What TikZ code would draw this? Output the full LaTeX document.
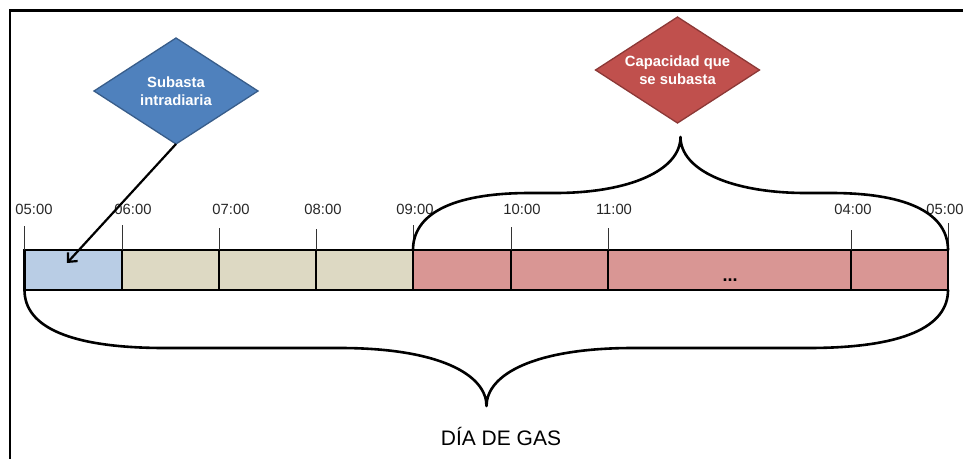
\documentclass[tikz,border=0pt]{standalone}
\usepackage{fontspec}
\setmainfont{Liberation Sans}
\usetikzlibrary{shapes.geometric,arrows.meta}
\definecolor{blueFill}{HTML}{4F81BD}
\definecolor{blueEdge}{HTML}{385D8A}
\definecolor{redFill}{HTML}{C0504D}
\definecolor{redEdge}{HTML}{8C3836}
\definecolor{cellBlue}{HTML}{B9CDE5}
\definecolor{cellBeige}{HTML}{DDD9C3}
\definecolor{cellRed}{HTML}{D99694}
\begin{document}
\begin{tikzpicture}[x=1pt,y=-1pt,
  decision/.style={diamond, aspect=1.55, minimum width=164pt, minimum height=106pt,
    inner sep=0pt, outer sep=0pt, line width=1.3pt, text=white,
    font=\fontsize{14.8}{18}\selectfont\bfseries, align=center},
  cell/.style={draw, line width=2.3pt, minimum height=40pt, inner sep=0pt, outer sep=0pt, anchor=north west},
  tickline/.style={line width=0.9pt, draw=black!80},
  hour/.style={font=\fontsize{14.8}{17}\selectfont, anchor=base, inner sep=0pt, text=black!85},
  brace/.style={line width=2.6pt, line join=round, line cap=round}]
\useasboundingbox (0,0) rectangle (963,458);

% frame
\draw[line width=2.5pt] (10,470) -- (10,10.5) -- (975,10.5);

% diamonds
\node[decision, fill=blueFill, draw=blueEdge] (d1) at (176,91) {Subasta\\intradiaria};
\node[decision, fill=redFill, draw=redEdge] (d2) at (677.5,70) {Capacidad que\\se subasta};

% cells
\node[cell, fill=cellBlue, minimum width=97.5pt] (c1) at (24.5,250) {};
\node[cell, fill=cellBeige, minimum width=97pt] (c2) at (c1.north east) {};
\node[cell, fill=cellBeige, minimum width=97pt] (c3) at (c2.north east) {};
\node[cell, fill=cellBeige, minimum width=97pt] (c4) at (c3.north east) {};
\node[cell, fill=cellRed, minimum width=98pt] (c5) at (c4.north east) {};
\node[cell, fill=cellRed, minimum width=97pt] (c6) at (c5.north east) {};
\node[cell, fill=cellRed, minimum width=243pt] (c7) at (c6.north east) {};
\node[cell, fill=cellRed, minimum width=97pt] (c8) at (c7.north east) {};
\node[font=\fontsize{18}{20}\selectfont\bfseries, anchor=base, inner sep=0pt] (dots) at (730,281.5) {...};

% ticks
\draw[tickline] (c1.north west) -- ++(0,-24);
\draw[tickline] (c2.north west) -- ++(0,-25);
\draw[tickline] (c3.north west) -- ++(0,-22);
\draw[tickline] (c4.north west) -- ++(0,-21);
\draw[tickline] (c5.north west) -- ++(0,-25);
\draw[tickline] (c6.north west) -- ++(0,-23);
\draw[tickline] (c7.north west) -- ++(0,-22);
\draw[tickline] (c8.north west) -- ++(0,-20);
\draw[tickline] (c8.north east) -- ++(0,-27);

% hour labels
\node[hour] (h1) at (34,214) {05:00};
\node[hour] (h2) at (133,214) {06:00};
\node[hour] (h3) at (231,214) {07:00};
\node[hour] (h4) at (323,214) {08:00};
\node[hour] (h5) at (415,214) {09:00};
\node[hour] (h6) at (522,214) {10:00};
\node[hour] (h7) at (614,214) {11:00};
\node[hour] (h8) at (853,214) {04:00};
\node[hour] (h9) at (945,214) {05:00};

% top brace
\coordinate (tTip) at (680.5,137);
\draw[brace] (c5.north west) .. controls (413,215) and (450,193) .. (530,193) -- (555,193)
  .. controls (630,193) and (680.5,170) .. (tTip)
  .. controls (680.5,170) and (731,193) .. (806,193) -- (831,193)
  .. controls (911,193) and (948,215) .. (c8.north east);

% bottom brace
\coordinate (bTip) at (486.5,406);
\draw[brace] (c1.south west) .. controls (24.5,327) and (70,348) .. (165,348) -- (340,348)
  .. controls (440,348) and (486.5,375) .. (bTip)
  .. controls (486.5,375) and (533,348) .. (633,348) -- (808,348)
  .. controls (903,348) and (948,327) .. (c8.south east);

% arrow
\coordinate (aEnd) at (67,263);
\draw[line width=2.2pt, -{Straight Barb[length=7pt,width=13pt]}] (d1.south) -- (aEnd);

% caption
\node[font=\fontsize{21}{25}\selectfont, anchor=base, inner sep=0pt] (dia) at (501,445.5) {DÍA DE GAS};
\end{tikzpicture}
\end{document}
